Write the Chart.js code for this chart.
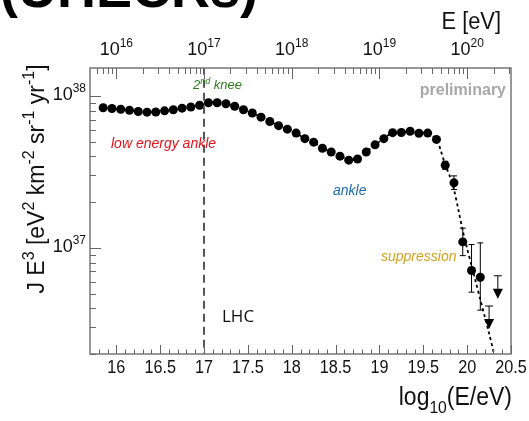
<!DOCTYPE html>
<html>
<head>
<meta charset="utf-8">
<script src="https://cdn.jsdelivr.net/npm/chart.js@4.4.1/dist/chart.umd.min.js"></script>
<style>
  html, body { margin: 0; padding: 0; background: #fff; }
  #wrap { position: relative; width: 529px; height: 421px; overflow: hidden; }
</style>
</head>
<body>
<div id="wrap"><canvas id="spectrum" width="529" height="421"></canvas></div>
<script>
// log10(E/eV) bin centres
const logE = [15.85, 15.95, 16.05, 16.15, 16.25, 16.35, 16.45, 16.55, 16.65, 16.75,
              16.85, 16.95, 17.05, 17.15, 17.25, 17.35, 17.45, 17.55, 17.65, 17.75,
              17.85, 17.95, 18.05, 18.15, 18.25, 18.35, 18.45, 18.55, 18.65, 18.75,
              18.85, 18.95, 19.05, 19.15, 19.25, 19.35, 19.45, 19.55, 19.65, 19.75,
              19.85, 19.95, 20.05, 20.15];
// J E^3 [eV^2 km^-2 sr^-1 yr^-1]
const flux = [8.38e37, 8.28e37, 8.18e37, 8.06e37, 7.91e37, 7.83e37, 7.85e37, 7.99e37, 8.13e37, 8.32e37,
              8.47e37, 8.70e37, 9.04e37, 9.04e37, 8.90e37, 8.56e37, 8.13e37, 7.73e37, 7.26e37, 6.80e37,
              6.38e37, 6.05e37, 5.70e37, 5.24e37, 4.97e37, 4.53e37, 4.28e37, 4.02e37, 3.78e37, 3.85e37,
              4.28e37, 4.77e37, 5.24e37, 5.74e37, 5.75e37, 5.86e37, 5.69e37, 5.70e37, 5.18e37, 3.50e37,
              2.68e37, 1.095e37, 7.10e36, 6.41e36];
// error bars that stick out of the markers
const errE  = [19.65, 19.75, 19.85, 19.95, 20.05, 20.15];
const errHi = [5.32e37, 3.72e37, 2.98e37, 1.35e37, 1.052e37, 1.079e37];
const errLo = [5.05e37, 3.29e37, 2.42e37, 8.89e36, 5.11e36, 3.89e36];
// upper limits in the last two bins
const limitE = [20.25, 20.35];
const limitFlux = [4.14e36, 6.55e36];
// fitted spectrum (dashed)
const fitE = logE.slice(0, 39).concat([19.70, 19.75, 19.80, 19.85, 19.90, 19.95, 20.00, 20.05,
                                        20.10, 20.15, 20.20, 20.25, 20.30, 20.35]);
const fitFlux = flux.slice(0, 39).concat([4.36e37, 3.52e37, 2.99e37, 2.42e37, 1.78e37, 1.30e37, 9.89e36, 7.65e36,
                                          5.92e36, 4.58e36, 3.54e36, 2.74e36, 2.08e36, 1.59e36]);
const lhcE = 17;
const xTicks = [16, 16.5, 17, 17.5, 18, 18.5, 19, 19.5, 20, 20.5];
const eDecades = [16, 17, 18, 19, 20];
const yDecades = [37, 38];

const family = '"Liberation Sans", Arial, Helvetica, sans-serif';

// draws text made of normal / superscript / subscript pieces
function richText(ctx, parts, x, y, o) {
  const size = o.size, small = Math.round(o.size * (o.supScale || 0.68));
  const sq = o.squeeze || 1;
  const font = s => (o.style || '') + ' ' + s + 'px ' + (o.family || family);
  let width = 0;
  for (const [t, role] of parts) {
    ctx.font = font(role ? small : size);
    width += ctx.measureText(t).width;
  }
  ctx.save();
  ctx.translate(x, y);
  if (o.rotate) ctx.rotate(o.rotate);
  ctx.scale(sq, 1);
  let cx = o.align === 'right' ? -width : o.align === 'center' ? -width / 2 : 0;
  ctx.fillStyle = o.color || '#111';
  ctx.textAlign = 'left';
  ctx.textBaseline = 'alphabetic';
  for (const [t, role] of parts) {
    ctx.font = font(role ? small : size);
    const dy = role === 'sup' ? -size * 0.42 : role === 'sub' ? size * 0.3 : 0;
    ctx.fillText(t, cx, dy);
    cx += ctx.measureText(t).width;
  }
  ctx.restore();
}

const frame = {
  id: 'frame',
  afterDatasetsDraw(chart) {
    const { ctx, chartArea: a, scales: { x, y } } = chart;
    ctx.save();

    // error bars
    ctx.strokeStyle = '#000';
    ctx.lineWidth = 1;
    errE.forEach((e, i) => {
      const px = x.getPixelForValue(e);
      const top = y.getPixelForValue(errHi[i]), bot = y.getPixelForValue(errLo[i]);
      ctx.beginPath();
      ctx.moveTo(px, top); ctx.lineTo(px, bot);
      ctx.moveTo(px - 3, top); ctx.lineTo(px + 3, top);
      ctx.moveTo(px - 3, bot); ctx.lineTo(px + 3, bot);
      ctx.stroke();
    });

    // upper limit arrows
    limitE.forEach((e, i) => {
      const px = x.getPixelForValue(e), py = y.getPixelForValue(limitFlux[i]);
      ctx.beginPath();
      ctx.moveTo(px - 4, py); ctx.lineTo(px + 4, py);
      ctx.moveTo(px, py); ctx.lineTo(px, py + 14);
      ctx.stroke();
      ctx.beginPath();
      ctx.moveTo(px - 5, py + 13); ctx.lineTo(px + 5, py + 13); ctx.lineTo(px, py + 23);
      ctx.closePath();
      ctx.fillStyle = '#000';
      ctx.fill();
    });

    // frame
    ctx.strokeStyle = '#777';
    ctx.lineWidth = 1.5;
    ctx.strokeRect(a.left, a.top, a.right - a.left, a.bottom - a.top);

    // inward ticks
    ctx.lineWidth = 1;
    ctx.strokeStyle = '#666';
    ctx.beginPath();
    for (let v = 15.8; v <= 20.501; v += 0.1) {
      const px = Math.round(x.getPixelForValue(v)) + 0.5;
      const major = Math.abs(v * 2 - Math.round(v * 2)) < 1e-6;
      ctx.moveTo(px, a.bottom); ctx.lineTo(px, a.bottom - (major ? 9 : 4.5));
    }
    for (let d = 15; d <= 20; d++) {
      for (let k = 1; k <= 9; k++) {
        const v = d + Math.log10(k);
        if (v < x.min || v > x.max) continue;
        const px = Math.round(x.getPixelForValue(v)) + 0.5;
        ctx.moveTo(px, a.top); ctx.lineTo(px, a.top + (k === 1 ? 11 : 6));
      }
    }
    for (let d = 36; d <= 38; d++) {
      for (let k = 1; k <= 9; k++) {
        const v = k * Math.pow(10, d);
        if (v < y.min || v > y.max) continue;
        const py = Math.round(y.getPixelForValue(v)) + 0.5;
        ctx.moveTo(a.left, py); ctx.lineTo(a.left + (k === 1 ? 11 : 6), py);
      }
    }
    ctx.stroke();

    // tick labels
    xTicks.forEach(v => {
      richText(ctx, [[String(v), '']], x.getPixelForValue(v), 373,
               { size: 18, align: 'center', squeeze: 0.9 });
    });
    eDecades.forEach(d => {
      richText(ctx, [['10', ''], [String(d), 'sup']], x.getPixelForValue(d), 55,
               { size: 18, align: 'center', supScale: 0.64 });
    });
    yDecades.forEach(d => {
      richText(ctx, [['10', ''], [String(d), 'sup']], 86, y.getPixelForValue(Math.pow(10, d)) + 4,
               { size: 18, align: 'right', supScale: 0.64 });
    });

    // axis titles
    richText(ctx, [['log', ''], ['10', 'sub'], ['(E/eV)', '']], 512, 405,
             { size: 25, align: 'right', squeeze: 0.92 });
    richText(ctx, [['E [eV]', '']], 501, 29, { size: 23, align: 'right', squeeze: 0.95 });
    richText(ctx, [['J E', ''], ['3', 'sup'], [' [eV', ''], ['2', 'sup'], [' km', ''], ['-2', 'sup'],
                   [' sr', ''], ['-1', 'sup'], [' yr', ''], ['-1', 'sup'], [']', '']],
             44, 179, { size: 23, align: 'center', rotate: -Math.PI / 2 });

    // labels on the spectrum
    richText(ctx, [['2', ''], ['nd', 'sup'], [' knee', '']], 193, 89,
             { size: 13, style: 'italic', color: '#2f7d1f' });
    richText(ctx, [['low energy ankle', '']], 111, 148, { size: 14, style: 'italic', color: '#e3121b' });
    richText(ctx, [['ankle', '']], 333, 195, { size: 14, style: 'italic', color: '#1d6aa5' });
    richText(ctx, [['suppression', '']], 381, 261, { size: 14, style: 'italic', color: '#d2a11c' });
    richText(ctx, [['LHC', '']], 222, 322, { size: 17, family: '"Open Sans", sans-serif', color: '#111' });
    richText(ctx, [['preliminary', '']], 506, 95, { size: 16, style: 'bold', align: 'right', color: '#a8a8a8' });

    // slide heading, cut by the top edge
    richText(ctx, [['(UHECRs)', '']], 0, 7, { size: 54, style: 'bold', color: '#000' });

    ctx.restore();
  }
};

new Chart(document.getElementById('spectrum'), {
  type: 'scatter',
  data: {
    datasets: [
      {
        label: 'LHC',
        data: [{ x: lhcE, y: 1e36 }, { x: lhcE, y: 1e39 }],
        showLine: true,
        borderColor: '#555',
        borderWidth: 2,
        borderDash: [8, 5],
        pointRadius: 0
      },
      {
        label: 'fit',
        data: fitE.map((e, i) => ({ x: e, y: fitFlux[i] })),
        showLine: true,
        borderColor: '#000',
        borderWidth: 1.8,
        borderDash: [3, 3],
        pointRadius: 0,
        tension: 0.3
      },
      {
        label: 'Auger',
        data: logE.map((e, i) => ({ x: e, y: flux[i] })),
        pointRadius: 4.5,
        pointBackgroundColor: '#000',
        pointBorderWidth: 0
      }
    ]
  },
  options: {
    responsive: false,
    animation: false,
    layout: { padding: { left: 90, right: 18, top: 68, bottom: 67 } },
    plugins: { legend: { display: false }, tooltip: { enabled: false } },
    scales: {
      x: { type: 'linear', min: 15.7, max: 20.5, display: false },
      y: { type: 'logarithmic', min: 2e36, max: 1.53e38, display: false }
    }
  },
  plugins: [frame]
});
</script>
</body>
</html>
